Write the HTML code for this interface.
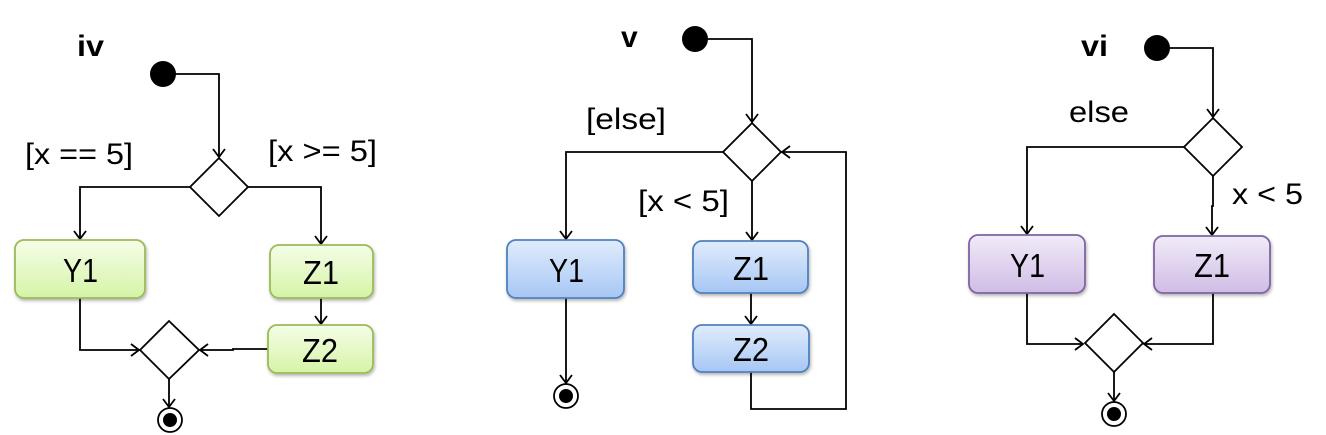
<!DOCTYPE html>
<html><head><meta charset="utf-8"><style>
html,body{margin:0;padding:0;background:#fff;}
svg{display:block;}
text{font-family:"Liberation Sans",sans-serif;fill:#000;}
</style></head><body>
<svg width="1326" height="435" viewBox="0 0 1326 435" xmlns="http://www.w3.org/2000/svg">
<defs>
<marker id="a" markerUnits="userSpaceOnUse" markerWidth="20" markerHeight="20" refX="10" refY="10" orient="auto" viewBox="0 0 20 20">
<path d="M2,4 L10,10 L2,16" fill="none" stroke="#000" stroke-width="1.8"/>
</marker>
<linearGradient id="g" x1="0" y1="0" x2="0" y2="1"><stop offset="0" stop-color="#f5fde8"/><stop offset="1" stop-color="#d5f4a6"/></linearGradient>
<linearGradient id="b" x1="0" y1="0" x2="0" y2="1"><stop offset="0" stop-color="#e0ecfc"/><stop offset="1" stop-color="#a6c6f4"/></linearGradient>
<linearGradient id="p" x1="0" y1="0" x2="0" y2="1"><stop offset="0" stop-color="#f1ebf8"/><stop offset="1" stop-color="#cfbce5"/></linearGradient>
<filter id="s" x="-10%" y="-10%" width="130%" height="140%"><feDropShadow dx="1" dy="2" stdDeviation="1.5" flood-color="#000" flood-opacity="0.3"/></filter>
</defs>
<g fill="none" stroke="#000" stroke-width="1.8">
<!-- iv -->
<path d="M163,74 H219 V157" marker-end="url(#a)"/>
<path d="M190,187 H80 V239" marker-end="url(#a)"/>
<path d="M248,187 H321 V244" marker-end="url(#a)"/>
<path d="M321,298 V324" marker-end="url(#a)"/>
<path d="M80,298 V350 H139" marker-end="url(#a)"/>
<path d="M268,349 H233 V350 H200" marker-end="url(#a)"/>
<path d="M169,379 V407" marker-end="url(#a)"/>
<path d="M219,158 L248,187 L219,216 L190,187 Z" fill="#fff"/>
<path d="M169,321 L199,350 L169,379 L140,350 Z" fill="#fff"/>
<!-- v -->
<path d="M695,39 H752 V122" marker-end="url(#a)"/>
<path d="M723,152 H566 V239" marker-end="url(#a)"/>
<path d="M752,181 V240" marker-end="url(#a)"/>
<path d="M751,293 V324" marker-end="url(#a)"/>
<path d="M566,298 V383" marker-end="url(#a)"/>
<path d="M751,372 V409 H846 V152 H782" marker-end="url(#a)"/>
<path d="M752,123 L781,152 L752,181 L723,152 Z" fill="#fff"/>
<!-- vi -->
<path d="M1157,48 H1213 V117" marker-end="url(#a)"/>
<path d="M1184,147 H1027 V234" marker-end="url(#a)"/>
<path d="M1213,176 V206 H1212 V235" marker-end="url(#a)"/>
<path d="M1027,293 V344 H1083" marker-end="url(#a)"/>
<path d="M1213,293 V344 H1144" marker-end="url(#a)"/>
<path d="M1114,372 V401" marker-end="url(#a)"/>
<path d="M1213,118 L1242,147 L1213,176 L1184,147 Z" fill="#fff"/>
<path d="M1114,314 L1143,343 L1114,372 L1085,343 Z" fill="#fff"/>
</g>
<circle cx="163" cy="74" r="13"/>
<circle cx="695" cy="39" r="13"/>
<circle cx="1157" cy="48" r="13"/>
<g fill="#fff" stroke="#000" stroke-width="1.8">
<circle cx="170" cy="420" r="12"/><circle cx="566" cy="396" r="12"/><circle cx="1114" cy="414" r="12"/>
</g>
<circle cx="170" cy="420" r="7"/><circle cx="566" cy="396" r="7"/><circle cx="1114" cy="414" r="7"/>
<g stroke-width="1.8" filter="url(#s)">
<rect x="15" y="240" width="130" height="58" rx="9" fill="url(#g)" stroke="#9bbb59"/>
<rect x="270" y="245" width="103" height="53" rx="9" fill="url(#g)" stroke="#9bbb59"/>
<rect x="268" y="325" width="105" height="48" rx="9" fill="url(#g)" stroke="#9bbb59"/>
<rect x="507" y="240" width="117" height="58" rx="9" fill="url(#b)" stroke="#4f81bd"/>
<rect x="693" y="241" width="115" height="52" rx="9" fill="url(#b)" stroke="#4f81bd"/>
<rect x="693" y="325" width="116" height="47" rx="9" fill="url(#b)" stroke="#4f81bd"/>
<rect x="969" y="235" width="116" height="58" rx="9" fill="url(#p)" stroke="#8064a2"/>
<rect x="1154" y="236" width="116" height="57" rx="9" fill="url(#p)" stroke="#8064a2"/>
</g>
<g font-size="33">
<text x="63" y="282" textLength="35" lengthAdjust="spacingAndGlyphs">Y1</text>
<text x="303" y="284" textLength="36" lengthAdjust="spacingAndGlyphs">Z1</text>
<text x="302" y="362" textLength="36" lengthAdjust="spacingAndGlyphs">Z2</text>
<text x="549" y="282" textLength="35" lengthAdjust="spacingAndGlyphs">Y1</text>
<text x="733" y="280" textLength="36" lengthAdjust="spacingAndGlyphs">Z1</text>
<text x="733" y="361" textLength="36" lengthAdjust="spacingAndGlyphs">Z2</text>
<text x="1010" y="277" textLength="35" lengthAdjust="spacingAndGlyphs">Y1</text>
<text x="1194" y="277" textLength="36" lengthAdjust="spacingAndGlyphs">Z1</text>
</g>
<g font-size="30">
<text x="25" y="164" textLength="108" lengthAdjust="spacingAndGlyphs">[x == 5]</text>
<text x="268" y="161" textLength="109" lengthAdjust="spacingAndGlyphs">[x &gt;= 5]</text>
<text x="586" y="129" textLength="80" lengthAdjust="spacingAndGlyphs">[else]</text>
<text x="638" y="211" textLength="91" lengthAdjust="spacingAndGlyphs">[x &lt; 5]</text>
<text x="1069" y="122" textLength="60" lengthAdjust="spacingAndGlyphs">else</text>
<text x="1232" y="204" textLength="71" lengthAdjust="spacingAndGlyphs">x &lt; 5</text>
</g>
<g font-size="30" font-weight="bold">
<text x="77" y="56" textLength="27" lengthAdjust="spacingAndGlyphs">iv</text>
<text x="621" y="47">v</text>
<text x="1081" y="56" textLength="27" lengthAdjust="spacingAndGlyphs">vi</text>
</g>
</svg>
</body></html>
